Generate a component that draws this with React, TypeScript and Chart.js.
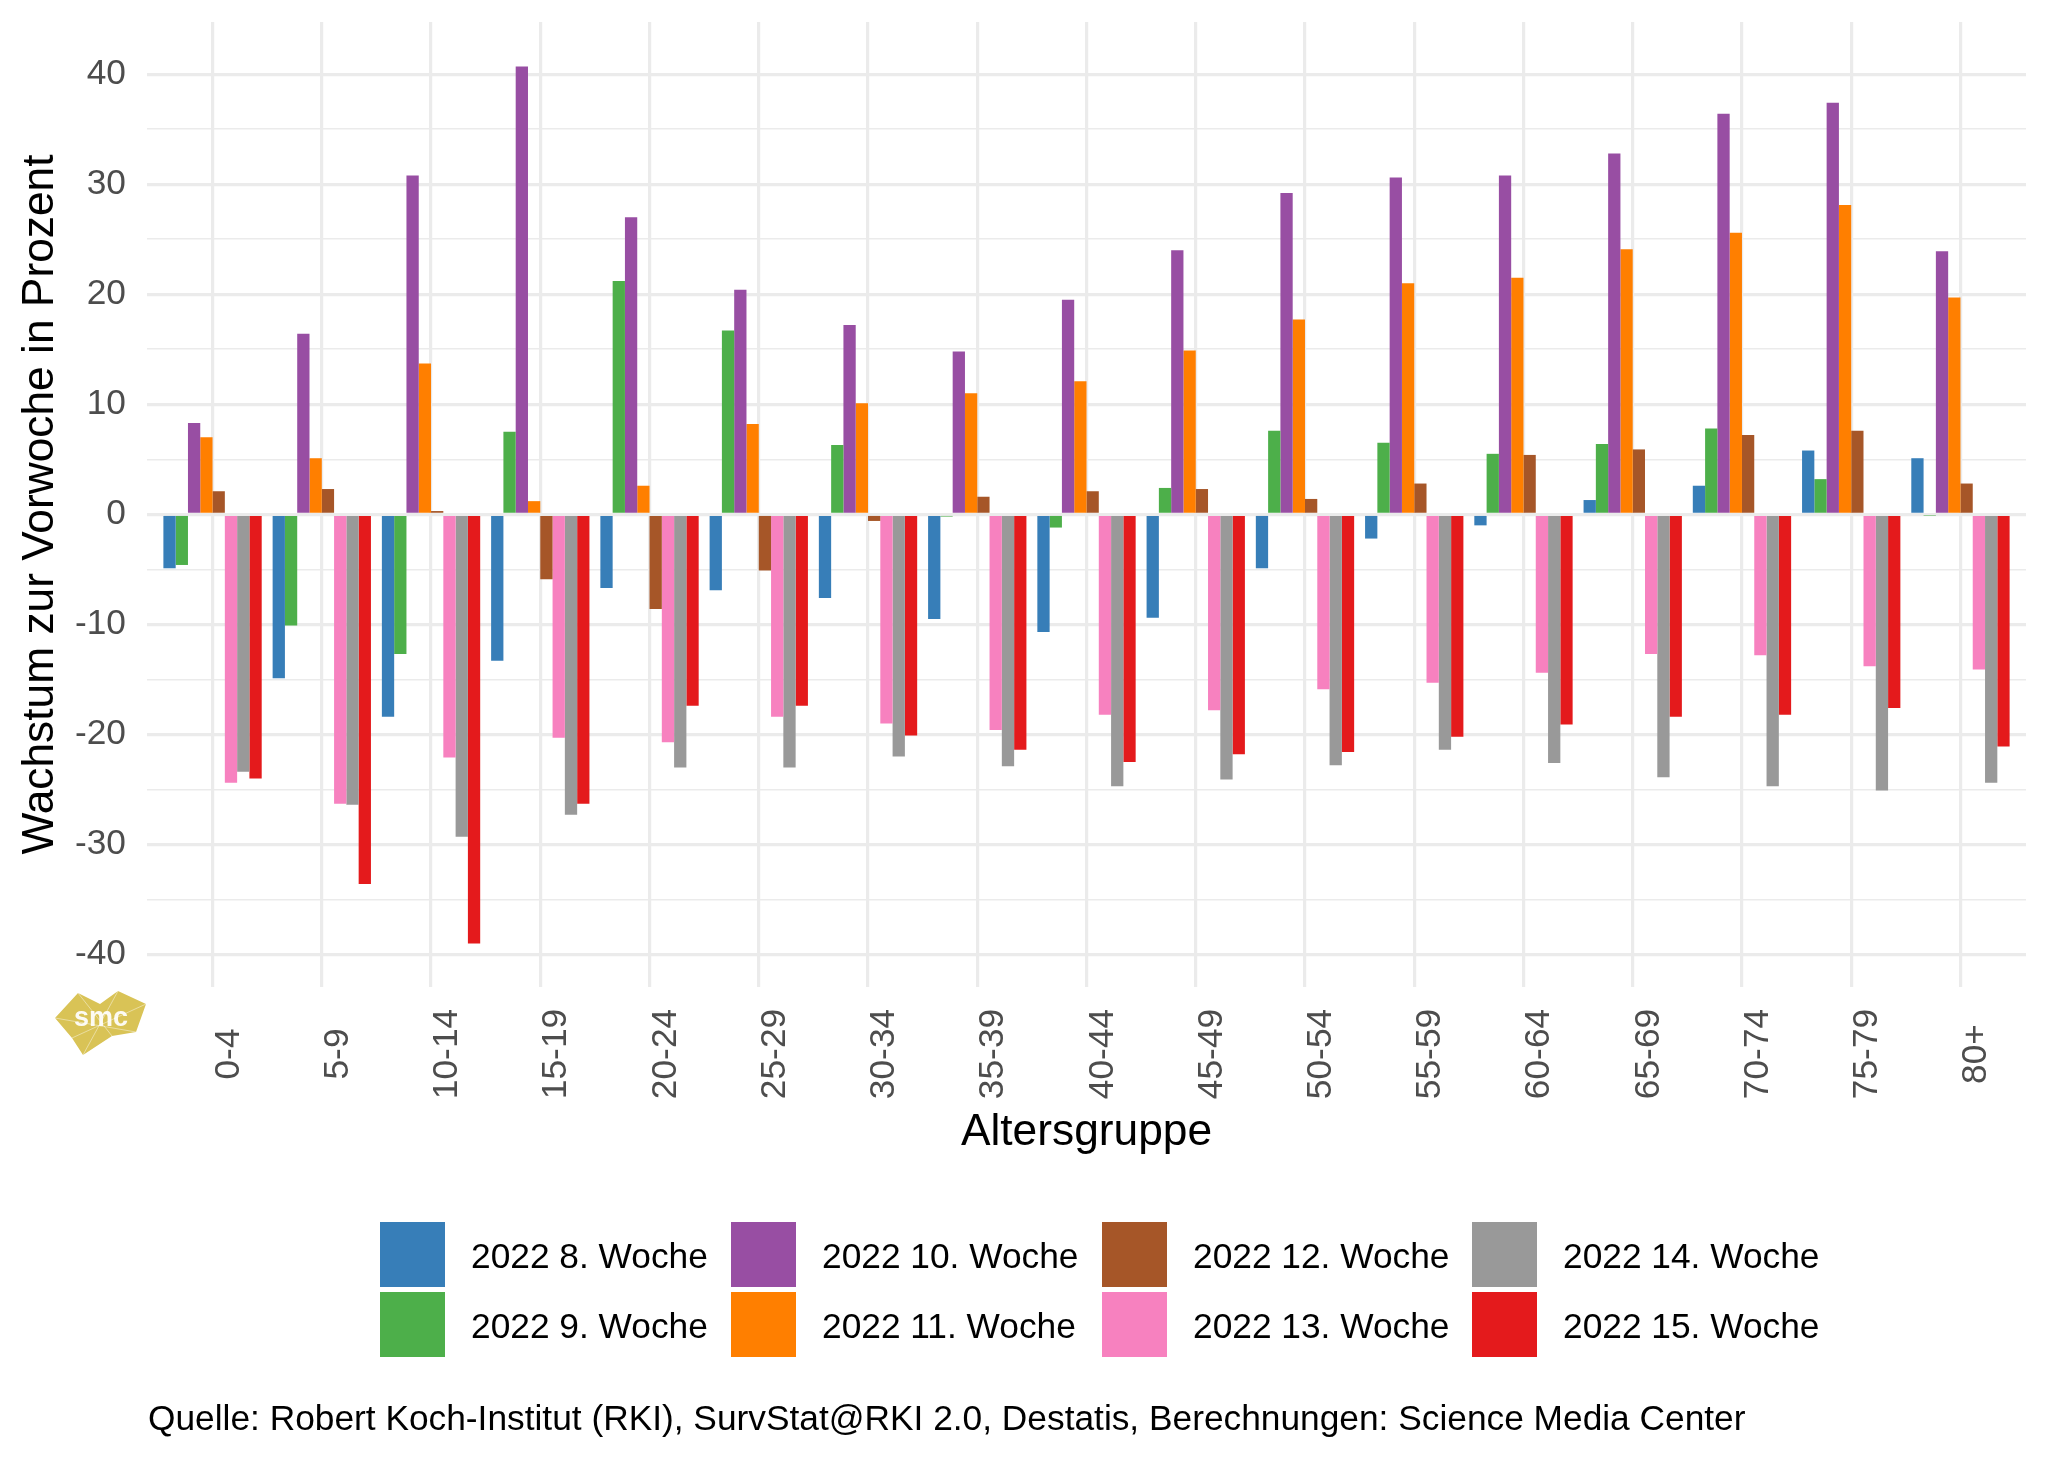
import React, { useEffect, useRef } from "react";
import { Chart, registerables } from "chart.js";

Chart.register(...registerables);

const ageGroups = ["0-4", "5-9", "10-14", "15-19", "20-24", "25-29", "30-34", "35-39", "40-44", "45-49", "50-54", "55-59", "60-64", "65-69", "70-74", "75-79", "80+"];

const weekLabels = ["2022 8. Woche", "2022 9. Woche", "2022 10. Woche", "2022 11. Woche", "2022 12. Woche", "2022 13. Woche", "2022 14. Woche", "2022 15. Woche"];

const weekColors = ["#377EB8", "#4DAF4A", "#984EA3", "#FF7F00", "#A65628", "#F781BF", "#999999", "#E41A1C"];

const week08 = [-4.9, -14.9, -18.4, -13.3, -6.7, -6.9, -7.6, -9.5, -10.7, -9.4, -4.9, -2.2, -1.0, 1.3, 2.6, 5.8, 5.1];
const week09 = [-4.6, -10.1, -12.7, 7.5, 21.2, 16.7, 6.3, -0.2, -1.2, 2.4, 7.6, 6.5, 5.5, 6.4, 7.8, 3.2, -0.1];
const week10 = [8.3, 16.4, 30.8, 40.7, 27.0, 20.4, 17.2, 14.8, 19.5, 24.0, 29.2, 30.6, 30.8, 32.8, 36.4, 37.4, 23.9];
const week11 = [7.0, 5.1, 13.7, 1.2, 2.6, 8.2, 10.1, 11.0, 12.1, 14.9, 17.7, 21.0, 21.5, 24.1, 25.6, 28.1, 19.7];
const week12 = [2.1, 2.3, 0.3, -5.9, -8.6, -5.1, -0.6, 1.6, 2.1, 2.3, 1.4, 2.8, 5.4, 5.9, 7.2, 7.6, 2.8];
const week13 = [-24.4, -26.3, -22.1, -20.3, -20.7, -18.4, -19.0, -19.6, -18.2, -17.8, -15.9, -15.3, -14.4, -12.7, -12.8, -13.8, -14.1];
const week14 = [-23.4, -26.4, -29.3, -27.3, -23.0, -23.0, -22.0, -22.9, -24.7, -24.1, -22.8, -21.4, -22.6, -23.9, -24.7, -25.1, -24.4];
const week15 = [-24.0, -33.6, -39.0, -26.3, -17.4, -17.4, -20.1, -21.4, -22.5, -21.8, -21.6, -20.2, -19.1, -18.4, -18.2, -17.6, -21.1];

const weekSeries = [week08, week09, week10, week11, week12, week13, week14, week15];

const yTickValues = [-40, -35, -30, -25, -20, -15, -10, -5, 0, 5, 10, 15, 20, 25, 30, 35, 40];

const yTitle = "Wachstum zur Vorwoche in Prozent";
const xTitle = "Altersgruppe";
const captionText = "Quelle: Robert Koch-Institut (RKI), SurvStat@RKI 2.0, Destatis, Berechnungen: Science Media Center";

const FONT = "'Liberation Sans', Arial, Helvetica, sans-serif";
const SMALL = 35.3;
const BIG = 44.3;

const extrasPlugin = {
  id: "ggExtras",
  afterDraw(chart: any) {
    const ctx = chart.ctx as CanvasRenderingContext2D;
    const xScale = chart.scales.x;
    const area = chart.chartArea;
    ctx.save();

    // x tick labels (rotated, centred)
    ctx.fillStyle = "#4D4D4D";
    ctx.font = `${SMALL}px ${FONT}`;
    ctx.textAlign = "center";
    ctx.textBaseline = "alphabetic";
    ageGroups.forEach((lab, i) => {
      const px = xScale.getPixelForValue(i);
      ctx.save();
      ctx.translate(px + 26, 1054);
      ctx.rotate(-Math.PI / 2);
      ctx.fillText(lab, 0, 0);
      ctx.restore();
    });

    // x title
    ctx.fillStyle = "#000000";
    ctx.font = `${BIG}px ${FONT}`;
    ctx.textAlign = "center";
    ctx.fillText(xTitle, (area.left + area.right) / 2, 1145);

    // legend (column-major, 2 rows)
    const colX = [380, 731, 1102, 1472];
    const rowY = [1222, 1292];
    const box = 65;
    ctx.font = `${SMALL}px ${FONT}`;
    ctx.textAlign = "left";
    chart.data.datasets.forEach((ds: any, i: number) => {
      const col = Math.floor(i / 2);
      const row = i % 2;
      const bx = colX[col];
      const by = rowY[row];
      ctx.fillStyle = ds.backgroundColor;
      ctx.fillRect(bx, by, box, box);
      ctx.fillStyle = "#000000";
      ctx.fillText(ds.label, bx + 91, by + box / 2 + 13);
    });

    // caption
    ctx.font = `${SMALL}px ${FONT}`;
    ctx.fillStyle = "#000000";
    ctx.textAlign = "left";
    ctx.fillText(captionText, 148, 1430);

    // smc logo
    ctx.fillStyle = "#D9C356";
    ctx.beginPath();
    const pts = [[55, 1018], [78, 993], [100, 1004], [118, 991], [146, 1004], [136, 1032], [112, 1036], [83, 1055], [72, 1038]];
    pts.forEach((p, k) => (k === 0 ? ctx.moveTo(p[0], p[1]) : ctx.lineTo(p[0], p[1])));
    ctx.closePath();
    ctx.fill();
    ctx.strokeStyle = "rgba(255,255,255,0.55)";
    ctx.lineWidth = 0.8;
    ctx.beginPath();
    ctx.moveTo(78, 993); ctx.lineTo(112, 1036);
    ctx.moveTo(118, 991); ctx.lineTo(83, 1055);
    ctx.moveTo(146, 1004); ctx.lineTo(72, 1038);
    ctx.moveTo(55, 1018); ctx.lineTo(136, 1032);
    ctx.stroke();
    ctx.fillStyle = "rgba(255,255,255,0.92)";
    ctx.font = `bold 27px ${FONT}`;
    ctx.textAlign = "center";
    ctx.fillText("smc", 101, 1026);

    ctx.restore();
  },
};

export default function App() {
  const canvasRef = useRef<HTMLCanvasElement | null>(null);

  useEffect(() => {
    if (!canvasRef.current) return;
    Chart.defaults.font.family = FONT;

    const datasets = weekSeries.map((vals, s) => ({
      label: weekLabels[s],
      data: vals.map((v, i) => ({ x: i, y: v })),
      backgroundColor: weekColors[s],
      borderWidth: 0,
      categoryPercentage: 0.9,
      barPercentage: 1.0,
    }));

    const chart = new Chart(canvasRef.current, {
      type: "bar",
      data: { datasets },
      plugins: [extrasPlugin],
      options: {
        animation: false,
        responsive: false,
        maintainAspectRatio: false,
        layout: { padding: { left: 0, top: 22, right: 22, bottom: 475 } },
        plugins: {
          legend: { display: false },
          tooltip: { enabled: false },
        },
        scales: {
          x: {
            type: "linear",
            min: -0.6,
            max: 16.6,
            offset: false,
            afterBuildTicks: (s: any) => {
              s.ticks = ageGroups.map((_, i) => ({ value: i }));
            },
            afterFit: (s: any) => {
              s.height = 0;
              s.paddingLeft = 0;
              s.paddingRight = 0;
              s.paddingTop = 0;
              s.paddingBottom = 0;
            },
            ticks: { display: false },
            grid: { color: "#EBEBEB", lineWidth: 3.2, drawTicks: false, offset: false },
            border: { display: false },
          },
          y: {
            type: "linear",
            min: -42.95,
            max: 44.74,
            afterBuildTicks: (s: any) => {
              s.ticks = yTickValues.map((v) => ({ value: v }));
            },
            afterFit: (s: any) => {
              s.width = 147;
              s.paddingTop = 0;
              s.paddingBottom = 0;
              s.paddingLeft = 0;
              s.paddingRight = 0;
            },
            ticks: {
              autoSkip: false,
              padding: 21,
              color: "#4D4D4D",
              font: { size: SMALL, family: FONT },
              callback: (v: any) => (Number(v) % 10 === 0 ? String(v) : ""),
            },
            grid: {
              color: "#EBEBEB",
              lineWidth: (c: any) => (c.tick && c.tick.value % 10 === 0 ? 3.2 : 1.6),
              drawTicks: false,
            },
            border: { display: false },
            title: {
              display: true,
              text: yTitle,
              color: "#000000",
              font: { size: BIG, family: FONT },
              padding: { top: 14, bottom: 0 },
            },
          },
        },
      } as any,
    });

    return () => {
      chart.destroy();
    };
  }, []);

  return (
    <div style={{ position: "absolute", left: 0, top: 0, width: 2048, height: 1462, background: "#FFFFFF" }}>
      <canvas ref={canvasRef} width={2048} height={1462} style={{ width: 2048, height: 1462, display: "block" }} />
    </div>
  );
}
